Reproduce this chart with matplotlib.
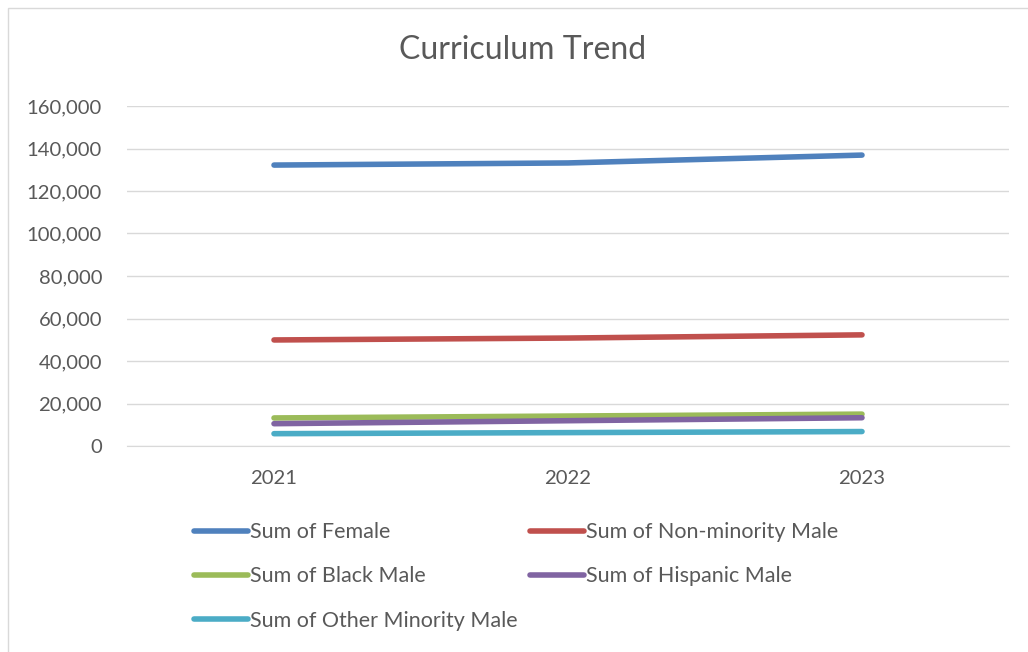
import matplotlib.pyplot as plt
from matplotlib.patches import Rectangle

years = ["2021", "2022", "2023"]
female = [132200, 133200, 136900]
non_minority_male = [49900, 50800, 52300]
black_male = [13200, 14100, 15000]
hispanic_male = [10500, 11900, 13300]
other_minority_male = [5800, 6300, 6800]

series = [
    ("Sum of Female", female, "#4F81BD"),
    ("Sum of Non-minority Male", non_minority_male, "#C0504D"),
    ("Sum of Black Male", black_male, "#9BBB59"),
    ("Sum of Hispanic Male", hispanic_male, "#8064A2"),
    ("Sum of Other Minority Male", other_minority_male, "#4BACC6"),
]

plt.rcParams["font.family"] = ["Lato", "DejaVu Sans"]
text_color = "#595959"

fig = plt.figure(figsize=(10.28, 6.52), dpi=100)
# light chart frame (left and top edges visible, rest runs off the image)
fig.patches.append(Rectangle((8 / 1028, -0.1), 1.1, 1 - 8 / 652 + 0.1,
                             transform=fig.transFigure, fill=False,
                             edgecolor="#d9d9d9", linewidth=1))
ax = fig.add_axes([127 / 1028, 1 - 446 / 652, 882 / 1028, 340 / 652])

x = [i + 0.5 for i in range(len(years))]
lines = {}
for name, values, color in series:
    (ln,) = ax.plot(x, values, color=color, linewidth=4.0,
                    solid_capstyle="round", solid_joinstyle="round", label=name)
    lines[name] = ln

ax.set_xlim(0, 3)
ax.set_ylim(0, 160000)
ax.set_yticks(range(0, 160001, 20000))
ax.set_yticklabels([f"{v:,}" for v in range(0, 160001, 20000)])
ax.set_xticks(x)
ax.set_xticklabels(years)
ax.tick_params(length=0, labelsize=14.6, colors=text_color)
ax.tick_params(axis="y", pad=18)
ax.tick_params(axis="x", pad=17)
ax.grid(axis="y", color="#d9d9d9", linewidth=1)
ax.set_axisbelow(True)
for s in ["top", "right", "left"]:
    ax.spines[s].set_visible(False)
ax.spines["bottom"].set_color("#d9d9d9")

fig.text(0.508, 1 - 50 / 652, "Curriculum Trend", ha="center", va="center",
         fontsize=23, color=text_color)

# column-wise fill: left column Female/Black/Other, right column Non-minority/Hispanic
order = ["Sum of Female", "Sum of Black Male", "Sum of Other Minority Male",
         "Sum of Non-minority Male", "Sum of Hispanic Male"]
fig.legend([lines[n] for n in order], order, ncol=2, frameon=False,
           loc="upper left", bbox_to_anchor=(175 / 1028, 1 - 503 / 652),
           fontsize=15.5, labelcolor=text_color, handlelength=2.5,
           handletextpad=0.1, columnspacing=0.57, labelspacing=1.12)

plt.savefig("out.png", dpi=100)
